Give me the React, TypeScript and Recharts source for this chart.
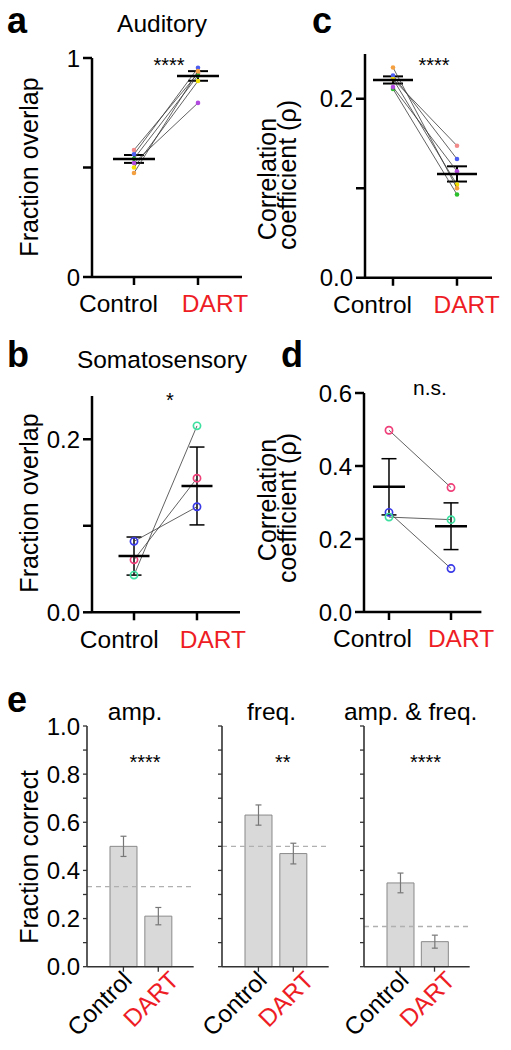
import React from 'react';
import {
  ScatterChart,
  Scatter,
  XAxis,
  YAxis,
  ErrorBar,
  BarChart,
  Bar,
  ReferenceLine,
} from 'recharts';

const FONT = '"Liberation Sans", Arial, Helvetica, sans-serif';
const RED = '#ee1d25';

// ---------- data ----------
const groups = ['Control', 'DART'];

// panel a: Auditory, fraction overlap (6 animals)
const aColors = ['#f28a8a', '#4b5cf0', '#2bc02b', '#b24ae0', '#f2e000', '#f5a040'];
const aControl = [0.58, 0.56, 0.54, 0.52, 0.5, 0.475];
const aDart = [0.93, 0.955, 0.92, 0.795, 0.895, 0.94];
const aMean = [0.539, 0.918];
const aSem = [0.018, 0.022];

// panel c: Auditory, correlation coefficient
const cColors = aColors;
const cControl = [0.222, 0.226, 0.211, 0.213, 0.222, 0.235];
const cDart = [0.1475, 0.1326, 0.093, 0.119, 0.104, 0.1];
const cMean = [0.221, 0.116];
const cSem = [0.004, 0.0085];

// panel b: Somatosensory, fraction overlap (3 animals)
const bColors = ['#3a3ae8', '#f0407a', '#3de0a0'];
const bControl = [0.082, 0.0607, 0.043];
const bDart = [0.122, 0.155, 0.2155];
const bMean = [0.065, 0.146];
const bSem = [0.022, 0.045];

// panel d: Somatosensory, correlation coefficient
const dColors = bColors;
const dControl = [0.273, 0.498, 0.26];
const dDart = [0.119, 0.341, 0.253];
const dMean = [0.343, 0.235];
const dSem = [0.077, 0.064];

// panel e: fraction correct
const eTitles = ['amp.', 'freq.', 'amp. & freq.'];
const eSig = ['****', '**', '****'];
const eControl = [0.5, 0.63, 0.348];
const eControlErr = [0.042, 0.042, 0.041];
const eDart = [0.21, 0.47, 0.104];
const eDartErr = [0.036, 0.043, 0.027];
const eChance = [0.333, 0.5, 0.167];
const eYTicks = [0, 0.1, 0.2, 0.3, 0.4, 0.5, 0.6, 0.7, 0.8, 0.9, 1.0];

// ---------- helpers ----------
type Box = { x0: number; x1: number; y0: number; y1: number };

const makeCatTick = (dxs: number[]) => (props: any) => {
  const { x, y, payload } = props;
  const i = payload.value as number;
  return (
    <text
      x={x + dxs[i]}
      y={y}
      dy="0.71em"
      textAnchor="middle"
      fontSize={24.5}
      fontFamily={FONT}
      fill={i === 1 ? RED : '#000'}
    >
      {groups[i]}
    </text>
  );
};

const makeDot = (color: string, open: boolean) => (props: any) => {
  const { cx, cy } = props;
  if (cx == null || cy == null) return <g />;
  return open ? (
    <circle cx={cx} cy={cy} r={3.6} fill="none" stroke={color} strokeWidth={1.7} />
  ) : (
    <circle cx={cx} cy={cy} r={2.3} fill={color} />
  );
};

const makeMean = (w: number, sw: number) => (props: any) => {
  const { cx, cy } = props;
  if (cx == null || cy == null) return <g />;
  return <line x1={cx - w / 2} x2={cx + w / 2} y1={cy} y2={cy} stroke="#000" strokeWidth={sw} />;
};

type PairProps = {
  box: Box;
  xDomain: [number, number];
  yDomain: [number, number];
  yTicks: number[];
  yLabels: string[];
  colors: string[];
  ctrl: number[];
  dart: number[];
  mean: number[];
  sem: number[];
  open: boolean;
  meanW: number;
  capHalf: number;
  errSW: number;
  labelDx: number[];
};

function PairPanel(p: PairProps) {
  const ML = 10, YW = 70, MT = 25, MR = 20, XH = 50, MB = 10;
  const left = p.box.x0 - ML - YW;
  const top = p.box.y0 - MT;
  const width = p.box.x1 - p.box.x0 + ML + YW + MR;
  const height = p.box.y1 - p.box.y0 + MT + XH + MB;
  const subjects = p.colors.map((c, i) => ({
    color: c,
    data: [
      { x: 0, y: p.ctrl[i] },
      { x: 1, y: p.dart[i] },
    ],
  }));
  const summary = [
    { x: 0, y: p.mean[0], err: p.sem[0] },
    { x: 1, y: p.mean[1], err: p.sem[1] },
  ];
  return (
    <div style={{ position: 'absolute', left, top }}>
      <ScatterChart width={width} height={height} margin={{ top: MT, right: MR, bottom: MB, left: ML }}>
        <XAxis
          type="number"
          dataKey="x"
          domain={p.xDomain}
          allowDataOverflow
          ticks={[0, 1]}
          interval={0}
          height={XH}
          tickSize={8}
          tickMargin={10}
          tick={makeCatTick(p.labelDx)}
          axisLine={{ stroke: '#000', strokeWidth: 2.5 }}
          tickLine={{ stroke: '#000', strokeWidth: 2.5 }}
        />
        <YAxis
          type="number"
          dataKey="y"
          domain={p.yDomain}
          allowDataOverflow
          ticks={p.yTicks}
          interval={0}
          width={YW}
          tickSize={9}
          tickMargin={3}
          tickFormatter={(v: number) => p.yLabels[p.yTicks.indexOf(v)] ?? ''}
          tick={{ fill: '#000', fontSize: 24, fontFamily: FONT }}
          axisLine={{ stroke: '#000', strokeWidth: 2.5 }}
          tickLine={{ stroke: '#000', strokeWidth: 2.5 }}
        />
        {subjects.map((s, i) => (
          <Scatter
            key={i}
            data={s.data}
            line={{ stroke: '#3a3a3a', strokeWidth: 0.8 }}
            lineType="joint"
            shape={makeDot(s.color, p.open)}
            isAnimationActive={false}
          />
        ))}
        <Scatter data={summary} shape={makeMean(p.meanW, 2.6)} isAnimationActive={false}>
          <ErrorBar dataKey="err" direction="y" width={p.capHalf} stroke="#000" strokeWidth={p.errSW} />
        </Scatter>
      </ScatterChart>
    </div>
  );
}

const makeRotTick = (dxs: number[], dy: number) => (props: any) => {
  const { x, y, payload } = props;
  const i = groups.indexOf(payload.value);
  return (
    <g transform={`translate(${x + dxs[i]},${y + dy})`}>
      <text
        x={0}
        y={0}
        textAnchor="end"
        transform="rotate(-45)"
        fontSize={24.5}
        fontFamily={FONT}
        fill={i === 1 ? RED : '#000'}
      >
        {payload.value}
      </text>
    </g>
  );
};

function BarPanel({ k, box, showLabels }: { k: number; box: Box; showLabels: boolean }) {
  const ML = 10, YW = 70, MT = 25, MR = 15, XH = 90, MB = 0;
  const left = box.x0 - ML - YW;
  const top = box.y0 - MT;
  const width = box.x1 - box.x0 + ML + YW + MR;
  const height = box.y1 - box.y0 + MT + XH + MB;
  const data = [
    { name: groups[0], v: eControl[k], err: eControlErr[k] },
    { name: groups[1], v: eDart[k], err: eDartErr[k] },
  ];
  return (
    <div style={{ position: 'absolute', left, top }}>
      <BarChart width={width} height={height} data={data} margin={{ top: MT, right: MR, bottom: MB, left: ML }}>
        <XAxis
          dataKey="name"
          padding={{ left: 19, right: 18 }}
          interval={0}
          height={XH}
          tickSize={5}
          tickMargin={0}
          tick={makeRotTick([10, 22], 10)}
          axisLine={{ stroke: '#333', strokeWidth: 1.6 }}
          tickLine={{ stroke: '#333', strokeWidth: 1.3 }}
        />
        <YAxis
          type="number"
          domain={[0, 1]}
          ticks={eYTicks}
          interval={0}
          width={YW}
          tickSize={4}
          tickMargin={3}
          tickFormatter={(v: number) =>
            showLabels && Math.round(v * 10) % 2 === 0 ? v.toFixed(1) : ''
          }
          tick={{ fill: '#000', fontSize: 24, fontFamily: FONT }}
          axisLine={{ stroke: '#333', strokeWidth: 1.6 }}
          tickLine={{ stroke: '#333', strokeWidth: 1.3 }}
        />
        <Bar dataKey="v" barSize={27} fill="#d9d9d9" stroke="#8a8a8a" strokeWidth={1} isAnimationActive={false}>
          <ErrorBar dataKey="err" width={3} stroke="#777" strokeWidth={1.2} />
        </Bar>
        <ReferenceLine y={eChance[k]} stroke="#b0b0b0" strokeWidth={1.3} strokeDasharray="5 4" />
      </BarChart>
    </div>
  );
}

const T = (props: any) => <text fontFamily={FONT} fill="#000" {...props} />;

export default function App() {
  const eY0 = 726;
  const eY1 = 966.7;
  return (
    <div
      style={{
        position: 'absolute',
        left: 0,
        top: 0,
        width: 511,
        height: 1050,
        background: '#fff',
        fontFamily: FONT,
        overflow: 'hidden',
      }}
    >
      <PairPanel
        box={{ x0: 92, x1: 242, y0: 58, y1: 277 }}
        xDomain={[-0.656, 1.6875]}
        yDomain={[0, 1]}
        yTicks={[0, 0.5, 1]}
        yLabels={['0', '', '1']}
        colors={aColors}
        ctrl={aControl}
        dart={aDart}
        mean={aMean}
        sem={aSem}
        open={false}
        meanW={42}
        capHalf={10}
        errSW={2}
        labelDx={[-15.5, 17]}
      />
      <PairPanel
        box={{ x0: 365, x1: 492, y0: 54.25, y1: 278 }}
        xDomain={[-0.4375, 1.547]}
        yDomain={[0, 0.25]}
        yTicks={[0, 0.1, 0.2]}
        yLabels={['0.0', '', '0.2']}
        colors={cColors}
        ctrl={cControl}
        dart={cDart}
        mean={cMean}
        sem={cSem}
        open={false}
        meanW={40}
        capHalf={10}
        errSW={2}
        labelDx={[-20.5, 9.7]}
      />
      <PairPanel
        box={{ x0: 92, x1: 240, y0: 395.7, y1: 612 }}
        xDomain={[-0.667, 1.683]}
        yDomain={[0, 0.25]}
        yTicks={[0, 0.1, 0.2]}
        yLabels={['0.0', '', '0.2']}
        colors={bColors}
        ctrl={bControl}
        dart={bDart}
        mean={bMean}
        sem={bSem}
        open={true}
        meanW={31}
        capHalf={7.5}
        errSW={1.5}
        labelDx={[-14.7, 16]}
      />
      <PairPanel
        box={{ x0: 364.3, x1: 481.7, y0: 392.7, y1: 611.7 }}
        xDomain={[-0.403, 1.49]}
        yDomain={[0, 0.6]}
        yTicks={[0, 0.2, 0.4, 0.6]}
        yLabels={['0.0', '0.2', '0.4', '0.6']}
        colors={dColors}
        ctrl={dControl}
        dart={dDart}
        mean={dMean}
        sem={dSem}
        open={true}
        meanW={32}
        capHalf={7.5}
        errSW={1.5}
        labelDx={[-16.5, 10]}
      />
      <BarPanel k={0} box={{ x0: 87.3, x1: 194, y0: eY0, y1: eY1 }} showLabels={true} />
      <BarPanel k={1} box={{ x0: 222.3, x1: 329, y0: eY0, y1: eY1 }} showLabels={false} />
      <BarPanel k={2} box={{ x0: 364.3, x1: 470, y0: eY0, y1: eY1 }} showLabels={false} />

      <svg
        width={511}
        height={1050}
        style={{ position: 'absolute', left: 0, top: 0, pointerEvents: 'none' }}
      >
        {/* panel letters */}
        <T x={7} y={33} fontSize={36} fontWeight="bold">a</T>
        <T x={312} y={33} fontSize={36} fontWeight="bold">c</T>
        <T x={7} y={367} fontSize={36} fontWeight="bold">b</T>
        <T x={281} y={367} fontSize={36} fontWeight="bold">d</T>
        <T x={7} y={712} fontSize={36} fontWeight="bold">e</T>

        {/* titles */}
        <T x={162} y={32} fontSize={24.5} textAnchor="middle">Auditory</T>
        <T x={162} y={368} fontSize={24.5} textAnchor="middle">Somatosensory</T>
        <T x={135} y={720} fontSize={24.5} textAnchor="middle">amp.</T>
        <T x={271.5} y={720} fontSize={24.5} textAnchor="middle">freq.</T>
        <T x={410.7} y={720} fontSize={24.5} textAnchor="middle">amp. &amp; freq.</T>

        {/* significance */}
        <T x={169} y={72} fontSize={20} textAnchor="middle">****</T>
        <T x={434} y={72} fontSize={20} textAnchor="middle">****</T>
        <T x={170} y={407} fontSize={20} textAnchor="middle">*</T>
        <T x={430} y={395} fontSize={21} textAnchor="middle">n.s.</T>
        <T x={145} y={769} fontSize={20} textAnchor="middle">{eSig[0]}</T>
        <T x={282.7} y={769} fontSize={20} textAnchor="middle">{eSig[1]}</T>
        <T x={425.5} y={769} fontSize={20} textAnchor="middle">{eSig[2]}</T>

        {/* y-axis labels */}
        <T x={38} y={167} fontSize={25} textAnchor="middle" transform="rotate(-90 38 167)">Fraction overlap</T>
        <T x={38} y={503} fontSize={25} textAnchor="middle" transform="rotate(-90 38 503)">Fraction overlap</T>
        <T x={276} y={179} fontSize={25} textAnchor="middle" transform="rotate(-90 276 179)">Correlation</T>
        <T x={296} y={175} fontSize={25} textAnchor="middle" transform="rotate(-90 296 175)">coefficient (ρ)</T>
        <T x={276} y={500} fontSize={25} textAnchor="middle" transform="rotate(-90 276 500)">Correlation</T>
        <T x={296} y={508} fontSize={25} textAnchor="middle" transform="rotate(-90 296 508)">coefficient (ρ)</T>
        <T x={38} y={857} fontSize={25} textAnchor="middle" transform="rotate(-90 38 857)">Fraction correct</T>
      </svg>
    </div>
  );
}
